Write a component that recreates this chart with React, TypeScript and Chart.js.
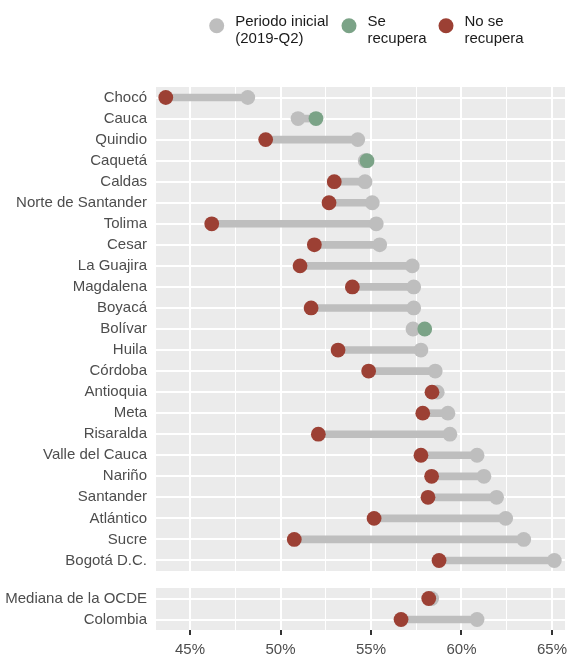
import React, { useEffect, useRef } from 'react';
import { Chart, registerables } from 'chart.js';

Chart.register(...registerables);

// ---------- data ----------
const categories = [
  'Chocó', 'Cauca', 'Quindio', 'Caquetá', 'Caldas', 'Norte de Santander', 'Tolima',
  'Cesar', 'La Guajira', 'Magdalena', 'Boyacá', 'Bolívar', 'Huila', 'Córdoba',
  'Antioquia', 'Meta', 'Risaralda', 'Valle del Cauca', 'Nariño', 'Santander',
  'Atlántico', 'Sucre', 'Bogotá D.C.',
];
const initialRate = [
  48.19, 50.97, 54.27, 54.68, 54.67, 55.07, 55.29, 55.48, 57.28, 57.36, 57.36, 57.32,
  57.76, 58.55, 58.66, 59.25, 59.36, 60.86, 61.24, 61.94, 62.44, 63.44, 65.13,
];
const finalRate = [
  43.66, 51.96, 49.18, 54.78, 52.97, 52.68, 46.2, 51.87, 51.08, 53.97, 51.69, 57.97,
  53.18, 54.87, 58.37, 57.86, 52.09, 57.76, 58.35, 58.15, 55.17, 50.76, 58.76,
];
const refCategories = ['Mediana de la OCDE', 'Colombia'];
const refInitial = [58.35, 60.86];
const refFinal = [58.19, 56.66];
const xTicks = [45, 47.5, 50, 52.5, 55, 57.5, 60, 62.5, 65];
const legendLabels = [['Periodo inicial', '(2019-Q2)'], ['Se', 'recupera'], ['No se', 'recupera']];

// ---------- styles ----------
const X_MIN = 43.12;
const X_MAX = 65.72;
const GRAY = '#BEBEBE';
const GREEN = '#7BA387';
const RED = '#9C4034';
const PANEL = '#EBEBEB';
const TEXT = '#4D4D4D';
const FONT_FAMILY = '"Liberation Sans", Arial, sans-serif';
const FONT_SIZE = 15;

function buildDatasets(init: number[], fin: number[]) {
  const recovered = fin.map((v, i) => (v >= init[i] ? v : null));
  const notRecovered = fin.map((v, i) => (v < init[i] ? v : null));
  const pointBase = {
    type: 'line' as const,
    indexAxis: 'y' as const,
    showLine: false,
    pointRadius: 7.4,
    pointHoverRadius: 7.4,
    pointBorderWidth: 0,
  };
  return [
    {
      type: 'bar' as const,
      indexAxis: 'y' as const,
      data: init.map((v, i) => [Math.min(v, fin[i]), Math.max(v, fin[i])]),
      backgroundColor: GRAY,
      borderWidth: 0,
      barThickness: 7,
      order: 3,
    },
    { ...pointBase, data: init, pointBackgroundColor: GRAY, backgroundColor: GRAY, borderColor: GRAY, order: 2 },
    { ...pointBase, data: notRecovered, pointBackgroundColor: RED, backgroundColor: RED, borderColor: RED, order: 1 },
    { ...pointBase, data: recovered, pointBackgroundColor: GREEN, backgroundColor: GREEN, borderColor: GREEN, order: 1 },
  ];
}

function xScale(showTicks: boolean) {
  return {
    type: 'linear' as const,
    min: X_MIN,
    max: X_MAX,
    afterBuildTicks: (s: any) => {
      s.ticks = xTicks.map((v) => ({ value: v }));
    },
    afterFit: (s: any) => {
      s.height = showTicks ? 30 : 0;
      s.paddingLeft = 0;
      s.paddingRight = 0;
      s.paddingTop = 0;
      s.paddingBottom = 0;
    },
    grid: {
      color: '#FFFFFF',
      lineWidth: (c: any) => (c.tick && c.tick.value % 5 === 0 ? 2 : 1),
      drawTicks: showTicks,
      tickLength: 5,
      tickWidth: 2,
      tickColor: (c: any) => (c.tick && c.tick.value % 5 === 0 ? '#333333' : 'rgba(0,0,0,0)'),
    },
    border: { display: false },
    ticks: {
      display: showTicks,
      autoSkip: false,
      maxRotation: 0,
      padding: 6,
      color: TEXT,
      font: { family: FONT_FAMILY, size: FONT_SIZE },
      callback: (v: any) => (Number(v) % 5 === 0 ? `${v}%` : ''),
    },
  };
}

function yScale() {
  return {
    type: 'category' as const,
    offset: true,
    afterFit: (s: any) => {
      s.width = 156;
      s.paddingLeft = 0;
      s.paddingRight = 0;
      s.paddingTop = 0;
      s.paddingBottom = 0;
    },
    grid: { color: '#FFFFFF', lineWidth: 2, offset: false, drawTicks: false },
    border: { display: false },
    ticks: {
      autoSkip: false,
      padding: 9,
      color: TEXT,
      font: { family: FONT_FAMILY, size: FONT_SIZE },
    },
  };
}

const panelBackground = {
  id: 'panelBackground',
  beforeDraw(chart: any) {
    const { ctx, chartArea } = chart;
    ctx.save();
    ctx.fillStyle = PANEL;
    ctx.fillRect(chartArea.left, chartArea.top, chartArea.right - chartArea.left, chartArea.bottom - chartArea.top);
    ctx.restore();
  },
};

const dotLegend = {
  id: 'dotLegend',
  afterDraw(chart: any) {
    const { ctx } = chart;
    const colors = [GRAY, GREEN, RED];
    const xs = [216.7, 349, 446];
    ctx.save();
    ctx.font = `${FONT_SIZE}px ${FONT_FAMILY}`;
    ctx.textAlign = 'left';
    ctx.textBaseline = 'alphabetic';
    legendLabels.forEach((lines, i) => {
      ctx.fillStyle = colors[i];
      ctx.beginPath();
      ctx.arc(xs[i], 25.8, 7.5, 0, Math.PI * 2);
      ctx.fill();
      ctx.fillStyle = '#1A1A1A';
      lines.forEach((line, j) => {
        ctx.fillText(line, xs[i] + 18.5, 26 + j * 17);
      });
    });
    ctx.restore();
  },
};

export default function App() {
  const topRef = useRef<HTMLCanvasElement>(null);
  const bottomRef = useRef<HTMLCanvasElement>(null);

  useEffect(() => {
    const common = {
      responsive: false,
      animation: false as const,
      events: [] as any[],
      indexAxis: 'y' as const,
    };
    const top = new Chart(topRef.current as HTMLCanvasElement, {
      type: 'bar',
      data: { labels: categories, datasets: buildDatasets(initialRate, finalRate) as any },
      options: {
        ...common,
        layout: { autoPadding: false, padding: { top: 87, right: 5, bottom: 4, left: 0 } },
        plugins: { legend: { display: false }, tooltip: { enabled: false } },
        scales: { x: xScale(false) as any, y: yScale() as any },
      },
      plugins: [panelBackground, dotLegend],
    });
    const bottom = new Chart(bottomRef.current as HTMLCanvasElement, {
      type: 'bar',
      data: { labels: refCategories, datasets: buildDatasets(refInitial, refFinal) as any },
      options: {
        ...common,
        layout: { autoPadding: false, padding: { top: 13, right: 5, bottom: 0, left: 0 } },
        plugins: { legend: { display: false }, tooltip: { enabled: false } },
        scales: { x: xScale(true) as any, y: yScale() as any },
      },
      plugins: [panelBackground],
    });
    return () => {
      top.destroy();
      bottom.destroy();
    };
  }, []);

  return (
    <div style={{ position: 'absolute', left: 0, top: 0, width: 570, height: 660, background: '#FFFFFF' }}>
      <canvas
        ref={topRef}
        width={570}
        height={575}
        style={{ position: 'absolute', left: 0, top: 0, width: 570, height: 575, display: 'block' }}
      />
      <canvas
        ref={bottomRef}
        width={570}
        height={85}
        style={{ position: 'absolute', left: 0, top: 575, width: 570, height: 85, display: 'block' }}
      />
    </div>
  );
}
